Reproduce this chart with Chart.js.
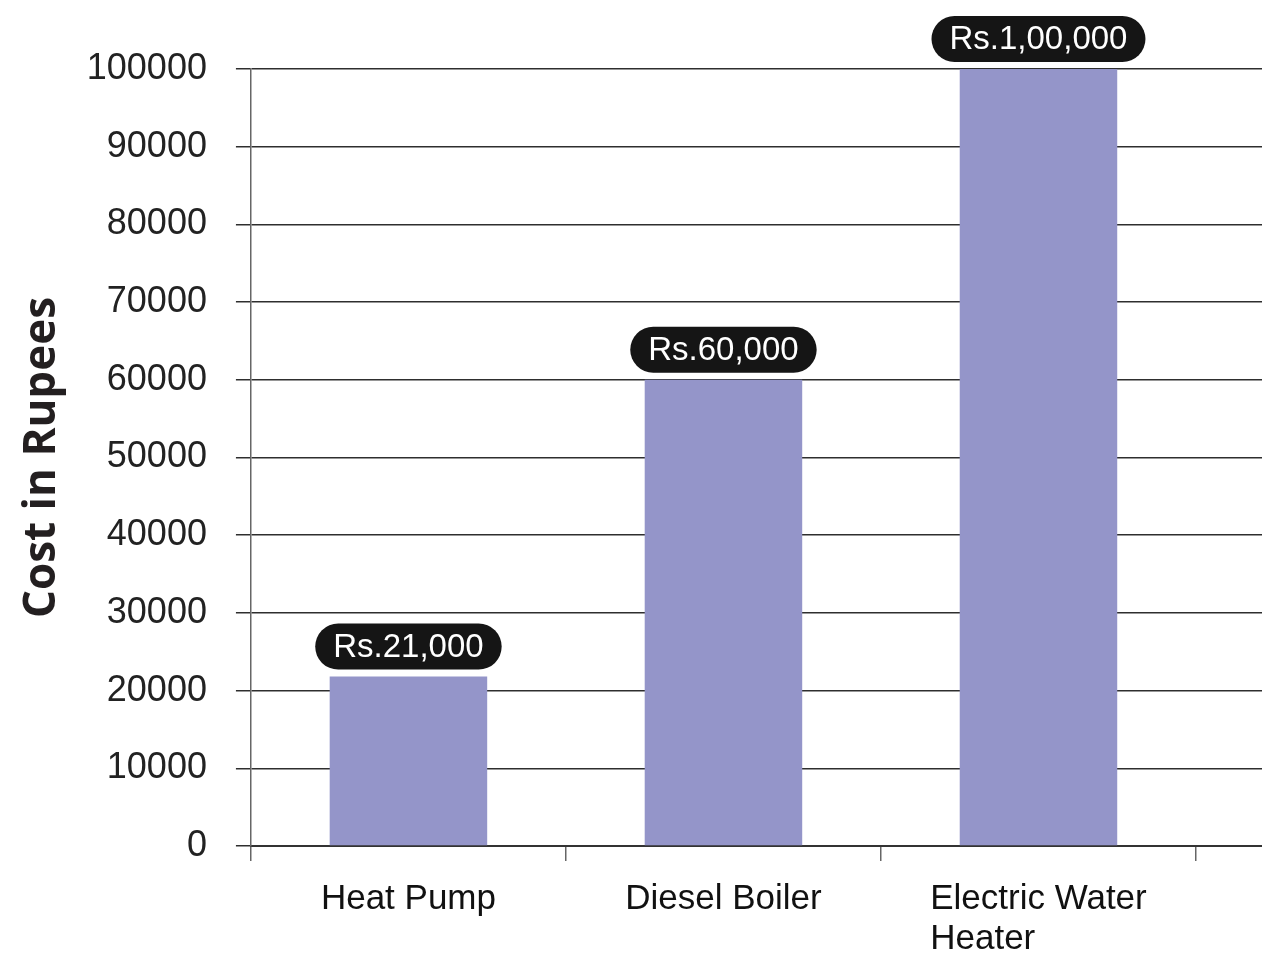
<!DOCTYPE html>
<html>
<head>
<meta charset="utf-8">
<title>Cost in Rupees</title>
<script src="https://cdn.jsdelivr.net/npm/chart.js@4.4.1/dist/chart.umd.min.js"></script>
<style>
  html, body { margin: 0; padding: 0; background: #fff; overflow: hidden; }
  #frame { position: relative; width: 1262px; height: 955px; overflow: hidden; }
  #costChart { position: absolute; left: 0; top: 0; }
</style>
</head>
<body>
<div id="frame">
  <canvas id="costChart" width="1520" height="955"></canvas>
</div>
<script>
  // the source picture is cropped on the right, so a 4th empty slot is kept
  var categories = ["Heat Pump", "Diesel Boiler", ["Electric Water", "Heater"], ""];
  var costValues = [21800, 60000, 100000, null];
  var costLabels = ["Rs.21,000", "Rs.60,000", "Rs.1,00,000", ""];
  var yTicks = [0, 10000, 20000, 30000, 40000, 50000, 60000, 70000, 80000, 90000, 100000];

  var textFont = "'Liberation Sans', Arial, sans-serif";

  // black pill labels above the bars
  var pillLabels = {
    id: "pillLabels",
    afterDatasetsDraw: function (chart) {
      var ctx = chart.ctx;
      var meta = chart.getDatasetMeta(0);
      ctx.save();
      ctx.font = "33px " + textFont;
      ctx.textAlign = "center";
      ctx.textBaseline = "middle";
      meta.data.forEach(function (bar, i) {
        var txt = costLabels[i];
        if (!txt || costValues[i] == null) return;
        var w = ctx.measureText(txt).width + 36;
        var h = 46;
        var x = bar.x - w / 2;
        var y = bar.y - 7 - h;
        ctx.fillStyle = "#151515";
        ctx.beginPath();
        ctx.roundRect(x, y, w, h, h / 2);
        ctx.fill();
        ctx.fillStyle = "#ffffff";
        ctx.fillText(txt, bar.x, y + h / 2 + 1);
      });
      ctx.restore();
    }
  };

  // category labels, multi-line ones left aligned as in the original
  var leftAlignedLabels = {
    id: "leftAlignedLabels",
    afterDraw: function (chart) {
      var ctx = chart.ctx;
      var xs = chart.scales.x;
      ctx.save();
      ctx.font = "35px " + textFont;
      ctx.fillStyle = "#111111";
      ctx.textAlign = "left";
      ctx.textBaseline = "alphabetic";
      categories.forEach(function (lab, i) {
        var lines = Array.isArray(lab) ? lab : [lab];
        var wMax = 0;
        lines.forEach(function (l) { wMax = Math.max(wMax, ctx.measureText(l).width); });
        var cx = xs.getPixelForValue(i);
        lines.forEach(function (l, j) {
          ctx.fillText(l, cx - wMax / 2, xs.top + 63 + j * 40);
        });
      });
      ctx.restore();
    }
  };

  new Chart(document.getElementById("costChart"), {
    type: "bar",
    data: {
      labels: categories,
      datasets: [{
        data: costValues,
        backgroundColor: "#9495c9",
        borderWidth: 0,
        barPercentage: 0.5,
        categoryPercentage: 1.0
      }]
    },
    options: {
      responsive: false,
      devicePixelRatio: 1,
      animation: false,
      layout: { padding: { left: 10, top: 69, right: 9, bottom: 7 } },
      plugins: {
        legend: { display: false },
        tooltip: { enabled: false }
      },
      scales: {
        x: {
          grid: {
            drawOnChartArea: false,
            drawTicks: true,
            tickLength: 15,
            color: "#666666",
            lineWidth: 1.5
          },
          border: { color: "#333333", width: 2 },
          ticks: {
            color: "rgba(0,0,0,0)",
            font: { family: textFont, size: 35, lineHeight: 1.1 },
            padding: 5,
            maxRotation: 0,
            autoSkip: false
          }
        },
        y: {
          min: 0,
          max: 100000,
          afterBuildTicks: function (scale) {
            scale.ticks = yTicks.map(function (v) { return { value: v }; });
          },
          grid: {
            color: "#2e2e2e",
            lineWidth: 1.5,
            tickLength: 15
          },
          border: { color: "#666666", width: 1.5 },
          ticks: {
            color: "#222222",
            font: { family: textFont, size: 36 },
            padding: 29,
            callback: function (v) { return String(v); }
          },
          title: {
            display: true,
            text: "Cost in Rupees",
            color: "#231f20",
            font: { family: "'Open Sans', sans-serif", size: 44, weight: "bold" },
            padding: { top: 6, bottom: -11 }
          }
        }
      }
    },
    plugins: [pillLabels, leftAlignedLabels]
  });
</script>
</body>
</html>
